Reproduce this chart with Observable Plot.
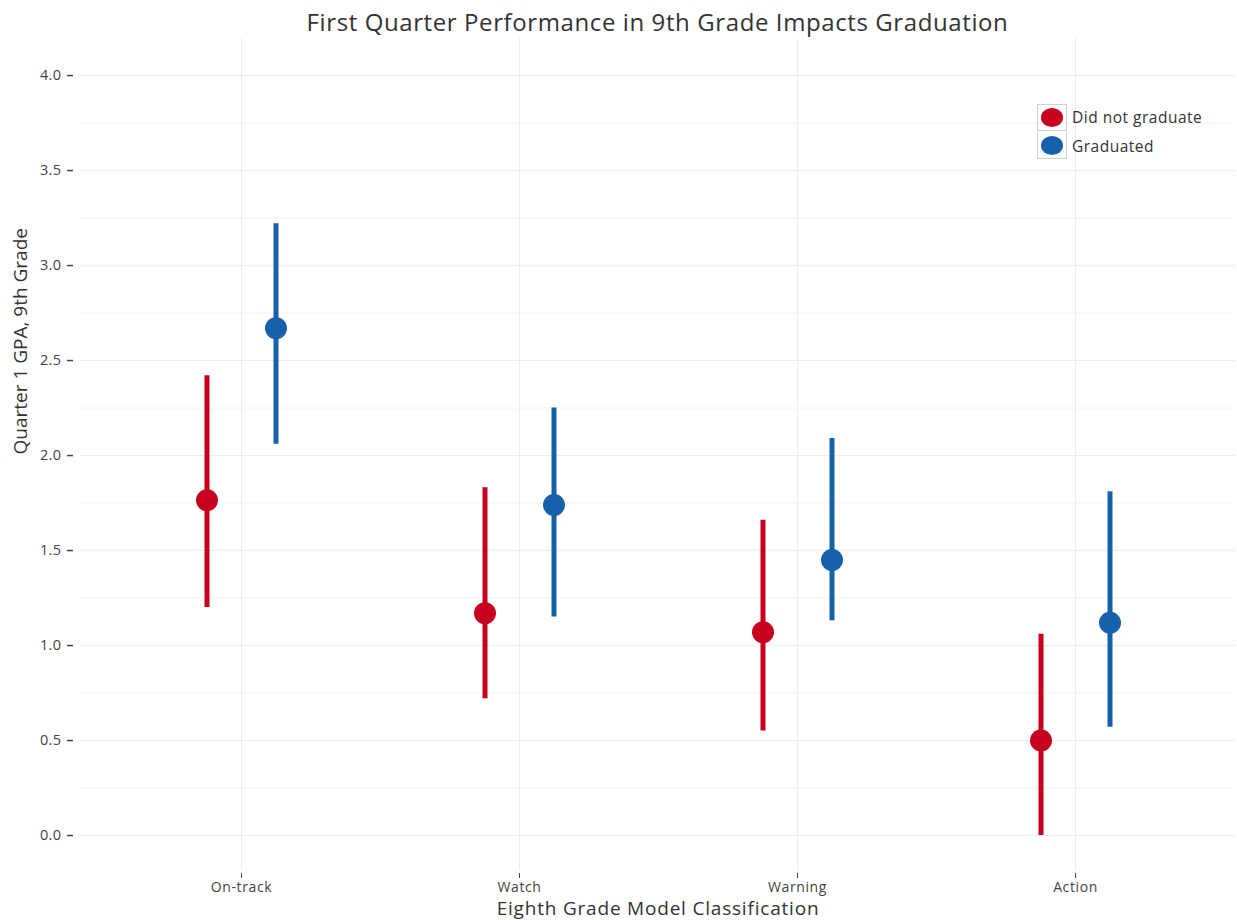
<!DOCTYPE html>
<html>
<head>
<meta charset="utf-8">
<script src="https://cdn.jsdelivr.net/npm/d3@7"></script>
<script src="https://cdn.jsdelivr.net/npm/@observablehq/plot@0.6"></script>
<style>
  body { margin: 0; background: #fff; font-family: "Open Sans", sans-serif; }
  #wrap { position: relative; width: 1237px; height: 920px; }
  #title { height: 34px; padding-top: 4px; line-height: 36px; text-align: center; font-size: 24px; letter-spacing: 0.6px; color: #333; padding-left: 78px; }
  #legend { position: absolute; left: 1037px; top: 103px; font-size: 15.5px; letter-spacing: 0.5px; color: #333; }
  .row { display: flex; align-items: center; height: 28.5px; }
  .key { width: 30px; height: 27px; border: 1px solid #d0d0d0; box-sizing: border-box; display: flex; align-items: center; justify-content: center; }
  .key span { display: block; width: 22px; height: 19px; border-radius: 50%; }
  .row + .row .key { border-top: none; }
  .lab { margin-left: 5px; }
  g[aria-label="x-axis tick label"] text { letter-spacing: 0.6px; }
  g[aria-label="y-axis tick label"] text { letter-spacing: 0.4px; }
  .xtitle text { letter-spacing: 0.8px; }
</style>
</head>
<body>
<div id="wrap">
  <div id="title">First Quarter Performance in 9th Grade Impacts Graduation</div>
  <div id="chart"></div>
  <div id="legend"></div>
</div>
<script>
const categories = ["On-track", "Watch", "Warning", "Action"];
const groups = ["Did not graduate", "Graduated"];
const colors = ["#c6001e", "#1760ab"];

const didNotMean = [1.765, 1.17, 1.07, 0.50];
const didNotLow  = [1.20, 0.72, 0.55, 0.00];
const didNotHigh = [2.42, 1.83, 1.66, 1.06];

const gradMean = [2.67, 1.74, 1.45, 1.12];
const gradLow  = [2.06, 1.15, 1.13, 0.57];
const gradHigh = [3.22, 2.25, 2.09, 1.81];

const yTicks = [0, 0.5, 1.0, 1.5, 2.0, 2.5, 3.0, 3.5, 4.0];
const yMinor = [0.25, 0.75, 1.25, 1.75, 2.25, 2.75, 3.25, 3.75];

const rows = [];
categories.forEach((c, i) => {
  rows.push({cat: c, group: groups[0], mean: didNotMean[i], low: didNotLow[i], high: didNotHigh[i]});
  rows.push({cat: c, group: groups[1], mean: gradMean[i], low: gradLow[i], high: gradHigh[i]});
});
const offsets = [-34.5, 34.5];

const marks = [
  Plot.ruleY(yMinor, {stroke: "#f4f4f4", strokeWidth: 1}),
  Plot.ruleY(yTicks, {stroke: "#ececec", strokeWidth: 1}),
  Plot.ruleX(categories, {stroke: "#ececec", strokeWidth: 1}),
  Plot.axisY({ticks: yTicks, tickFormat: d3.format(".1f"), tickSize: 6, dx: -7, tickPadding: 6, fontSize: 14.5, color: "#444", label: null, strokeWidth: 1.5}),
  Plot.axisX({tickSize: 5, dy: 3, tickPadding: 4, fontSize: 14, color: "#444", label: null}),
  Plot.text(["Quarter 1 GPA, 9th Grade"], {frameAnchor: "left", rotate: -90, dx: -60, fontSize: 19, fill: "#333"}),
  Plot.text(["Eighth Grade Model Classification"], {frameAnchor: "bottom", lineAnchor: "middle", dy: 38.5, fontSize: 19, fill: "#333", className: "xtitle"})
];
groups.forEach((g, gi) => {
  const sub = rows.filter(r => r.group === g);
  marks.push(Plot.ruleX(sub, {x: "cat", y1: "low", y2: "high", stroke: "group", strokeWidth: 5, dx: offsets[gi]}));
});
groups.forEach((g, gi) => {
  const sub = rows.filter(r => r.group === g);
  marks.push(Plot.dot(sub, {x: "cat", y: "mean", fill: "group", r: 11, dx: offsets[gi]}));
});

const chart = Plot.plot({
  width: 1237,
  height: 882,
  marginLeft: 80,
  marginRight: 2,
  marginTop: 0,
  marginBottom: 50,
  style: {fontFamily: "Open Sans, sans-serif", background: "#fff"},
  x: {type: "point", domain: categories, padding: 0.575},
  y: {domain: [-0.184, 4.195]},
  color: {domain: groups, range: colors},
  marks
});
document.getElementById("chart").appendChild(chart);

const legend = document.getElementById("legend");
groups.forEach((g, i) => {
  const row = document.createElement("div");
  row.className = "row";
  row.innerHTML = `<div class="key"><span style="background:${colors[i]}"></span></div><div class="lab">${g}</div>`;
  legend.appendChild(row);
});
</script>
</body>
</html>
